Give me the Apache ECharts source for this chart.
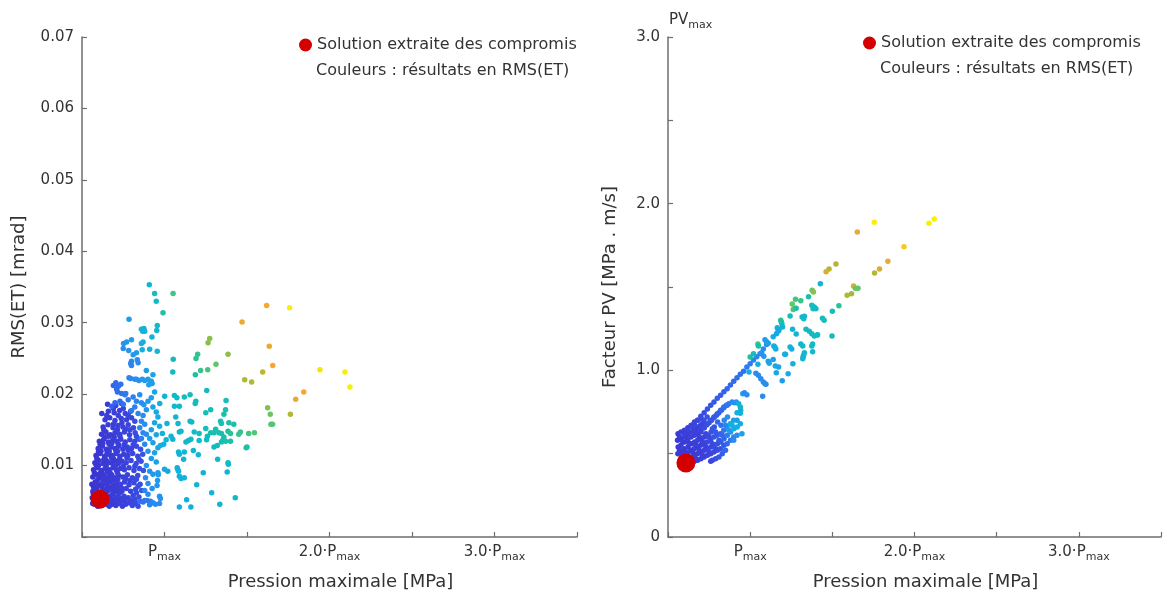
<!DOCTYPE html>
<html><head><meta charset="utf-8">
<script src="https://cdn.jsdelivr.net/npm/echarts@6/dist/echarts.min.js"></script>
<style>html,body{margin:0;padding:0;background:#fff}#c{width:1164px;height:597px}</style>
</head><body><div id="c"></div>
<script>
// ---- tick labels ----
const xTickPrefix = { 1: '', 2: '2.0\u00b7', 3: '3.0\u00b7' };
const rightYTickLabels = { 0: '0', 1: '1.0', 2: '2.0', 3: '3.0' };
const legendName = 'Solution extraite des compromis';
const colorNote = 'Couleurs : r\u00e9sultats en RMS(ET)';

// ---- compromise solution [P, value] ----
const leftSolution = [[0.609, 0.0053]];
const rightSolution = [[0.609, 0.444]];

// ---- left chart points [P/Pmax, RMS(ET), colour value] ----
const leftOutliers = [
[0.908,0.0353,0.45],[0.940,0.0341,0.55],[1.052,0.0341,0.65],[0.950,0.0330,0.5],[0.991,0.0314,0.58],[0.785,0.0305,0.35],[0.956,0.0296,0.5],[0.953,0.0289,0.45],[0.86,0.0291,0.42],[0.875,0.0292,0.43],[0.868,0.0288,0.42],[0.88,0.0288,0.44],[0.924,0.0280,0.45],[0.752,0.0271,0.32],[0.77,0.0273,0.33],[0.80,0.0276,0.35],[0.86,0.0271,0.4],[0.87,0.0273,0.4],[0.75,0.0264,0.3],[0.783,0.0261,0.32],[0.91,0.0263,0.43],[0.956,0.0260,0.46],[0.83,0.0258,0.36],[0.81,0.0255,0.34],[0.865,0.0262,0.4],
[1.053,0.0249,0.52],[1.191,0.0250,0.62],[1.201,0.0256,0.64],[1.264,0.0272,0.75],[1.274,0.0278,0.76],[1.385,0.0256,0.76],[1.470,0.0301,0.88],[1.619,0.0324,0.9],[1.758,0.0321,1.0],[1.635,0.0267,0.88],[1.656,0.0240,0.9],[1.595,0.0231,0.82],[1.486,0.0220,0.8],[1.528,0.0217,0.8],[1.942,0.0234,0.98],[2.094,0.0231,1.0],[2.124,0.0210,1.0],[1.844,0.0203,0.9],[1.795,0.0193,0.88],[1.763,0.0172,0.8],[1.625,0.0181,0.74],[1.641,0.0172,0.72],[1.645,0.0158,0.68],[1.655,0.0158,0.68],
[1.312,0.0242,0.7],[1.262,0.0234,0.66],[1.219,0.0233,0.64],[1.187,0.0227,0.6],[1.05,0.0231,0.52],[1.256,0.0205,0.52],[1.06,0.0198,0.5],[1.075,0.0195,0.5],[1.12,0.0196,0.52],[1.155,0.0199,0.54],[1.19,0.0190,0.52],[1.186,0.0187,0.52],[1.373,0.0191,0.55],[1.001,0.0197,0.45],[0.971,0.0187,0.42],[1.06,0.0183,0.48],[1.09,0.0183,0.5],[1.28,0.0178,0.56],[1.25,0.0174,0.55],[1.37,0.0178,0.58],[1.36,0.0172,0.57],[1.068,0.0168,0.47],[1.155,0.0162,0.5],[1.165,0.0161,0.5],[1.34,0.0162,0.55],[1.345,0.0159,0.56],[1.39,0.0160,0.58],[1.42,0.0158,0.6],[1.015,0.0159,0.45],[1.082,0.0159,0.47],[1.25,0.0152,0.55],[1.31,0.0151,0.56],
[0.987,0.0145,0.42],[1.04,0.0141,0.45],[1.05,0.0137,0.45],[1.09,0.0147,0.47],[1.10,0.0148,0.48],[1.18,0.0147,0.52],[1.21,0.0145,0.53],[1.28,0.0146,0.56],[1.30,0.0146,0.56],[1.33,0.0146,0.57],[1.345,0.0145,0.57],[1.36,0.0140,0.58],[1.355,0.0136,0.56],[1.345,0.0133,0.56],[1.37,0.0134,0.58],[1.40,0.0134,0.6],[1.385,0.0148,0.6],[1.40,0.0145,0.62],[1.45,0.0144,0.64],[1.46,0.0147,0.64],[1.51,0.0145,0.66],[1.545,0.0146,0.68],[1.26,0.0141,0.52],[1.255,0.0136,0.5],[1.21,0.0135,0.5],[1.16,0.0137,0.5],[1.13,0.0133,0.48],[1.145,0.0135,0.48],[1.30,0.0126,0.52],[1.32,0.0128,0.53],[1.50,0.0126,0.6],[1.495,0.0125,0.6],
[1.01,0.0136,0.43],[0.995,0.0130,0.42],[0.975,0.0128,0.4],[1.085,0.0119,0.45],[1.09,0.0116,0.45],[1.12,0.0119,0.46],[1.175,0.0121,0.47],[1.116,0.0109,0.45],[1.322,0.0109,0.5],[1.385,0.0104,0.5],[1.387,0.0102,0.5],[1.38,0.0091,0.48],[1.205,0.0115,0.47],[1.235,0.0090,0.45],[1.077,0.0097,0.42],[1.08,0.0095,0.42],[1.085,0.0092,0.43],[1.09,0.0085,0.42],[1.10,0.0082,0.43],[1.12,0.0083,0.44],[1.195,0.0073,0.45],[1.286,0.0062,0.46],[1.429,0.0055,0.5],[1.335,0.0046,0.47],[1.134,0.0052,0.42],[1.09,0.0042,0.4],[1.16,0.0042,0.42],
[0.96,0.0090,0.35],[0.962,0.0087,0.35],[0.958,0.0079,0.34],[0.955,0.0072,0.33],[1.0,0.0095,0.38],[1.02,0.0092,0.38],[0.97,0.0057,0.32],[0.975,0.0054,0.32],[0.945,0.0046,0.3],[0.93,0.0048,0.3],[0.915,0.0050,0.28],[0.91,0.0045,0.28],[0.97,0.0047,0.3],[0.85,0.0050,0.22],[0.88,0.0051,0.24],[0.87,0.0049,0.23],[0.895,0.0051,0.25]
];
const leftColumn = [
[0.69,0.0212,0.2],[0.71,0.0207,0.21],[0.72,0.0211,0.22],[0.735,0.0214,0.23],[0.705,0.0216,0.21],[0.715,0.0203,0.22],[0.74,0.0201,0.23],[0.76,0.0199,0.25],[0.765,0.0201,0.25],
[0.785,0.0223,0.27],[0.795,0.0222,0.28],[0.82,0.0221,0.29],[0.83,0.0221,0.3],[0.845,0.0219,0.31],[0.865,0.0221,0.32],
[0.80,0.0246,0.28],[0.80,0.0240,0.28],[0.795,0.0243,0.28],[0.835,0.0248,0.3],[0.84,0.0244,0.3],
[0.89,0.0233,0.35],[0.93,0.0227,0.37],[0.92,0.0218,0.36],[0.905,0.0213,0.35],[0.925,0.0215,0.36],[0.90,0.0221,0.35],[0.88,0.0219,0.34],
[0.94,0.0203,0.38],[0.92,0.0195,0.36],[0.90,0.0190,0.34],[0.875,0.0185,0.32],[0.89,0.0178,0.33],[0.93,0.0182,0.37],[0.95,0.0175,0.38],[0.96,0.0168,0.39],[0.94,0.0160,0.38],[0.97,0.0155,0.4],[0.92,0.0150,0.36],[0.95,0.0143,0.38],[0.91,0.0138,0.35],[0.93,0.0132,0.36],[0.96,0.0125,0.38],[0.94,0.0118,0.37],[0.90,0.0120,0.33],[0.92,0.0110,0.34],[0.95,0.0105,0.36],[0.89,0.0100,0.32],[0.91,0.0092,0.33],[0.93,0.0088,0.34],[0.885,0.0083,0.3],[0.90,0.0075,0.3],[0.925,0.0068,0.31],[0.88,0.0065,0.28],[0.90,0.0060,0.29],
[0.70,0.0188,0.2],[0.68,0.0183,0.19],[0.73,0.0190,0.22],[0.75,0.0186,0.23],[0.78,0.0192,0.25],[0.81,0.0196,0.27],[0.83,0.0190,0.28],[0.85,0.0199,0.3],[0.86,0.0188,0.3],[0.82,0.0182,0.27],[0.80,0.0177,0.26],[0.84,0.0173,0.28],[0.87,0.0170,0.3],[0.86,0.0162,0.29],[0.88,0.0158,0.3],[0.85,0.0153,0.28],[0.87,0.0146,0.29],[0.89,0.0144,0.3],[0.86,0.0138,0.27],[0.88,0.0130,0.28]
];
const leftCluster = [
[0.575,0.0046,0.04],[0.595,0.0043,0.04],[0.62,0.0045,0.05],[0.645,0.0047,0.05],[0.665,0.0043,0.06],[0.685,0.0046,0.06],[0.705,0.0044,0.07],[0.725,0.0047,0.08],[0.745,0.0043,0.08],[0.765,0.0046,0.09],[0.785,0.0048,0.1],[0.805,0.0044,0.11],[0.825,0.0047,0.12],[0.84,0.0043,0.13],
[0.562,0.0055,0.03],[0.582,0.0057,0.04],[0.60,0.0053,0.04],[0.625,0.0056,0.05],[0.648,0.0054,0.05],[0.67,0.0057,0.06],[0.69,0.0053,0.06],[0.71,0.0056,0.07],[0.735,0.0054,0.08],[0.755,0.0057,0.09],[0.78,0.0055,0.1],[0.81,0.0058,0.11],[0.845,0.0056,0.13],
[0.566,0.0064,0.03],[0.588,0.0067,0.04],[0.61,0.0063,0.04],[0.632,0.0066,0.05],[0.655,0.0064,0.05],[0.676,0.0067,0.06],[0.698,0.0063,0.07],[0.72,0.0066,0.07],[0.742,0.0064,0.08],[0.768,0.0068,0.09],[0.795,0.0064,0.1],[0.825,0.0067,0.12],[0.862,0.0065,0.14],
[0.56,0.0074,0.03],[0.58,0.0077,0.04],[0.603,0.0073,0.04],[0.625,0.0076,0.05],[0.647,0.0074,0.05],[0.668,0.0077,0.06],[0.69,0.0073,0.06],[0.712,0.0076,0.07],[0.733,0.0074,0.08],[0.758,0.0077,0.09],[0.785,0.0073,0.1],[0.815,0.0076,0.11],[0.852,0.0074,0.13],
[0.565,0.0084,0.03],[0.587,0.0087,0.04],[0.61,0.0083,0.04],[0.633,0.0086,0.05],[0.657,0.0084,0.05],[0.68,0.0087,0.06],[0.70,0.0083,0.07],[0.722,0.0086,0.07],[0.748,0.0084,0.08],[0.775,0.0087,0.09],[0.805,0.0083,0.11],[0.838,0.0086,0.12],
[0.57,0.0094,0.03],[0.593,0.0097,0.04],[0.617,0.0093,0.04],[0.64,0.0096,0.05],[0.664,0.0094,0.05],[0.688,0.0097,0.06],[0.71,0.0093,0.07],[0.733,0.0096,0.08],[0.757,0.0094,0.09],[0.785,0.0097,0.1],[0.815,0.0093,0.11],[0.848,0.0096,0.13],[0.872,0.0093,0.14],
[0.578,0.0104,0.04],[0.60,0.0107,0.04],[0.627,0.0103,0.05],[0.65,0.0106,0.05],[0.673,0.0104,0.06],[0.697,0.0107,0.06],[0.72,0.0103,0.07],[0.743,0.0106,0.08],[0.768,0.0104,0.09],[0.797,0.0107,0.1],[0.828,0.0103,0.12],[0.858,0.0106,0.13],
[0.585,0.0114,0.04],[0.61,0.0117,0.04],[0.637,0.0113,0.05],[0.66,0.0116,0.05],[0.683,0.0114,0.06],[0.707,0.0117,0.07],[0.73,0.0113,0.07],[0.753,0.0116,0.08],[0.778,0.0114,0.09],[0.807,0.0117,0.11],[0.838,0.0113,0.12],[0.868,0.0116,0.14],
[0.598,0.0124,0.04],[0.623,0.0127,0.05],[0.648,0.0123,0.05],[0.675,0.0126,0.06],[0.70,0.0124,0.06],[0.723,0.0127,0.07],[0.748,0.0123,0.08],[0.774,0.0126,0.09],[0.80,0.0124,0.1],[0.83,0.0127,0.12],[0.855,0.0123,0.13],
[0.605,0.0134,0.04],[0.632,0.0137,0.05],[0.66,0.0133,0.05],[0.687,0.0136,0.06],[0.71,0.0134,0.07],[0.735,0.0137,0.08],[0.762,0.0133,0.09],[0.79,0.0136,0.1],[0.82,0.0134,0.11],[0.848,0.0137,0.13],
[0.618,0.0144,0.05],[0.645,0.0147,0.05],[0.672,0.0143,0.06],[0.70,0.0146,0.07],[0.728,0.0144,0.08],[0.757,0.0147,0.09],[0.788,0.0143,0.1],[0.822,0.0146,0.12],
[0.628,0.0154,0.05],[0.658,0.0157,0.06],[0.688,0.0153,0.07],[0.718,0.0156,0.08],[0.748,0.0154,0.09],[0.78,0.0157,0.1],[0.812,0.0153,0.12],
[0.64,0.0164,0.05],[0.668,0.0167,0.06],[0.70,0.0163,0.07],[0.738,0.0166,0.08],[0.77,0.0164,0.09],[0.80,0.0167,0.11],
[0.62,0.0173,0.05],[0.66,0.0176,0.06],[0.695,0.0174,0.07],[0.728,0.0177,0.08],[0.762,0.0173,0.09],[0.795,0.0176,0.11],
[0.655,0.0186,0.06],[0.705,0.0184,0.08],[0.74,0.0187,0.09],
[0.57,0.0050,0.03],[0.595,0.0060,0.04],[0.615,0.0050,0.04],[0.64,0.0061,0.05],[0.66,0.0050,0.05],[0.685,0.0060,0.06],[0.70,0.0049,0.07],[0.725,0.0061,0.07],[0.57,0.0070,0.03],[0.595,0.0080,0.04],[0.62,0.0070,0.04],[0.645,0.0080,0.05],[0.665,0.0070,0.06],[0.69,0.0080,0.06],[0.712,0.0070,0.07],[0.575,0.0090,0.03],[0.60,0.0100,0.04],[0.622,0.0090,0.04],[0.647,0.0100,0.05],[0.67,0.0090,0.06],[0.693,0.0100,0.06],[0.715,0.0090,0.07],[0.59,0.0110,0.04],[0.615,0.0120,0.04],[0.64,0.0110,0.05],[0.665,0.0120,0.06],[0.69,0.0110,0.06],[0.715,0.0120,0.07],[0.61,0.0130,0.04],[0.64,0.0140,0.05],[0.665,0.0130,0.06],[0.695,0.0140,0.06],[0.72,0.0130,0.07],
[0.568,0.0061,0.03],[0.592,0.0071,0.04],[0.607,0.0058,0.04],[0.628,0.0081,0.05],[0.652,0.0069,0.05],[0.673,0.0082,0.06],[0.695,0.0068,0.06],[0.717,0.0081,0.07],[0.738,0.0069,0.08],[0.763,0.0082,0.09],[0.79,0.0079,0.1],[0.585,0.0101,0.04],[0.608,0.0089,0.04],[0.632,0.0108,0.05],[0.655,0.0091,0.05],[0.678,0.0111,0.06],[0.702,0.0099,0.07],[0.727,0.0109,0.07],[0.75,0.0099,0.08],[0.772,0.0111,0.09],[0.60,0.0119,0.04],[0.626,0.0131,0.05],[0.652,0.0118,0.05],[0.68,0.0131,0.06],[0.705,0.0121,0.07],[0.73,0.0141,0.08],[0.755,0.0129,0.08],[0.78,0.0121,0.09],[0.632,0.0150,0.05],[0.662,0.0141,0.06],[0.69,0.0158,0.07],[0.715,0.0150,0.07],[0.742,0.0160,0.08],[0.765,0.0151,0.09],[0.565,0.0047,0.03],[0.585,0.0051,0.04],[0.605,0.0047,0.04],[0.63,0.0050,0.05],[0.652,0.0046,0.05],[0.675,0.0051,0.06],[0.695,0.0047,0.06],[0.715,0.0051,0.07],[0.74,0.0050,0.08],[0.76,0.0052,0.09],[0.80,0.0051,0.11],[0.82,0.0053,0.12],[0.83,0.0062,0.12],[0.84,0.0071,0.13],[0.83,0.0081,0.12],[0.82,0.0099,0.12],[0.845,0.0109,0.13],[0.81,0.0129,0.11],[0.83,0.0141,0.12],[0.79,0.0150,0.11],[0.82,0.0162,0.13],[0.78,0.0170,0.11],[0.75,0.0180,0.1],[0.72,0.0170,0.09],[0.69,0.0180,0.08],[0.65,0.0170,0.06]
];

// ---- right chart points [P/Pmax, PV factor, colour value] ----
const rightOutliers = [
[1.755,1.888,1.0],[1.652,1.83,0.88],[2.088,1.882,1.0],[2.12,1.908,1.0],[1.936,1.742,0.95],[1.838,1.654,0.88],[1.787,1.608,0.86],[1.757,1.584,0.8],[1.522,1.638,0.8],[1.48,1.608,0.8],[1.462,1.592,0.86],[1.427,1.52,0.45],[1.377,1.48,0.72],[1.385,1.47,0.75],[1.355,1.442,0.6],[1.629,1.506,0.86],[1.64,1.492,0.72],[1.656,1.492,0.7],[1.59,1.45,0.8],[1.617,1.46,0.78],[1.54,1.388,0.62],[1.50,1.354,0.55],[1.498,1.206,0.52],[1.409,1.212,0.45],[1.375,1.39,0.55],[1.383,1.37,0.56],[1.276,1.426,0.66],[1.308,1.418,0.64],[1.256,1.398,0.7],[1.27,1.372,0.72],[1.262,1.365,0.68],[1.28,1.372,0.6],[1.316,1.32,0.5],[1.326,1.31,0.5],[1.243,1.326,0.55],[1.186,1.30,0.62],[1.19,1.29,0.6],[1.193,1.28,0.55],[1.197,1.26,0.45],[1.44,1.312,0.55],[1.45,1.30,0.55],[1.34,1.246,0.52],[1.36,1.234,0.52],[1.375,1.22,0.52],[1.39,1.206,0.52],[1.258,1.246,0.45],[1.28,1.218,0.45],[1.165,1.256,0.42],[1.175,1.24,0.42],[1.14,1.202,0.4],[1.243,1.14,0.42],[1.253,1.128,0.42],[1.308,1.158,0.5],[1.32,1.146,0.5],[1.38,1.158,0.52],[1.375,1.146,0.5],[1.38,1.112,0.5],[1.33,1.106,0.48],[1.325,1.09,0.48],[1.322,1.08,0.47],[1.32,1.07,0.47],[1.215,1.096,0.4],[1.144,1.146,0.4],[1.15,1.14,0.4],[1.156,1.128,0.4],[1.09,1.184,0.35],[1.10,1.172,0.35],[1.11,1.162,0.36],[1.07,1.106,0.32],[1.083,1.084,0.33],[1.047,1.158,0.65],[1.05,1.146,0.6],[1.047,1.036,0.4],[1.116,1.042,0.4],[1.153,1.026,0.38],[1.173,1.02,0.38],[1.159,0.986,0.38],[1.231,0.98,0.4],[1.195,0.938,0.35],[1.076,0.844,0.3],[0.993,0.99,0.4],[1.035,0.982,0.3],[1.05,0.97,0.3],[1.065,0.95,0.3],[1.08,0.93,0.3],[1.09,0.92,0.3],[1.096,0.916,0.3],[0.955,0.86,0.38],[0.965,0.865,0.3],[0.98,0.854,0.3],[0.89,0.81,0.3],[0.905,0.805,0.3],[0.915,0.81,0.32],[0.93,0.80,0.4],[0.94,0.78,0.45],[0.942,0.76,0.45],[0.94,0.742,0.42],[0.92,0.746,0.42],[1.0,1.08,0.6],[1.02,1.1,0.55],
[1.41,1.214,0.5],[1.26,1.04,0.42],[1.11,1.055,0.36],[1.14,1.065,0.36],[1.21,1.096,0.4],[1.16,1.22,0.38],[1.17,1.235,0.38],[1.33,1.325,0.48],[1.39,1.38,0.5],[1.40,1.37,0.5]
];
const rightUpperLine = [
[0.60,0.62,0.08],[0.62,0.64,0.09],[0.64,0.665,0.1],[0.66,0.68,0.1],[0.68,0.70,0.11],[0.70,0.725,0.12],[0.72,0.745,0.13],[0.74,0.768,0.14],[0.76,0.79,0.15],[0.78,0.81,0.16],[0.80,0.832,0.17],[0.82,0.85,0.18],[0.84,0.872,0.19],[0.86,0.89,0.2],[0.88,0.912,0.2],[0.90,0.935,0.21],[0.92,0.955,0.22],[0.94,0.977,0.23],[0.96,0.995,0.24],[0.98,1.02,0.25],[1.00,1.04,0.26],[1.02,1.062,0.27],[1.04,1.082,0.28],[1.06,1.10,0.29],[1.08,1.128,0.3],[1.10,1.155,0.32]
];
const rightMiddleLine = [
[0.70,0.64,0.1],[0.72,0.655,0.12],[0.735,0.672,0.13],[0.75,0.685,0.14],[0.765,0.70,0.15],[0.78,0.717,0.16],[0.795,0.73,0.17],[0.81,0.745,0.18],[0.825,0.76,0.2],[0.84,0.775,0.22],[0.855,0.79,0.24],[0.87,0.80,0.25]
];
const rightCluster = [
[0.56,0.50,0.05],[0.562,0.54,0.05],[0.558,0.58,0.05],[0.561,0.62,0.06],
[0.58,0.47,0.05],[0.582,0.51,0.05],[0.578,0.55,0.06],[0.581,0.59,0.06],[0.579,0.63,0.07],
[0.60,0.46,0.05],[0.602,0.49,0.05],[0.598,0.53,0.06],[0.601,0.57,0.06],[0.603,0.61,0.07],[0.60,0.64,0.08],
[0.62,0.46,0.05],[0.618,0.50,0.06],[0.622,0.54,0.06],[0.62,0.58,0.07],[0.619,0.62,0.07],[0.621,0.655,0.08],
[0.64,0.45,0.06],[0.641,0.48,0.06],[0.639,0.52,0.06],[0.642,0.56,0.07],[0.64,0.60,0.07],[0.638,0.63,0.08],[0.641,0.67,0.09],
[0.66,0.455,0.06],[0.661,0.49,0.06],[0.659,0.53,0.07],[0.662,0.57,0.07],[0.66,0.61,0.08],[0.658,0.65,0.08],[0.661,0.69,0.1],
[0.68,0.46,0.07],[0.679,0.50,0.07],[0.681,0.54,0.07],[0.68,0.58,0.08],[0.682,0.62,0.08],[0.679,0.66,0.09],[0.681,0.70,0.11],
[0.70,0.47,0.07],[0.701,0.51,0.08],[0.699,0.55,0.08],[0.702,0.59,0.09],[0.70,0.63,0.1],[0.698,0.67,0.1],[0.701,0.71,0.12],
[0.72,0.48,0.08],[0.721,0.52,0.09],[0.719,0.56,0.09],[0.722,0.60,0.1],[0.72,0.655,0.12],[0.718,0.70,0.13],
[0.74,0.49,0.09],[0.741,0.53,0.1],[0.739,0.57,0.11],[0.742,0.61,0.12],[0.74,0.68,0.14],[0.738,0.72,0.15],
[0.76,0.50,0.1],[0.761,0.54,0.11],[0.759,0.58,0.12],[0.762,0.63,0.14],[0.76,0.70,0.16],
[0.78,0.51,0.11],[0.781,0.55,0.12],[0.779,0.60,0.14],[0.782,0.66,0.16],[0.78,0.72,0.18],
[0.80,0.52,0.12],[0.801,0.56,0.14],[0.799,0.61,0.16],[0.802,0.69,0.2],[0.80,0.74,0.2],
[0.82,0.53,0.14],[0.821,0.57,0.16],[0.819,0.62,0.18],[0.822,0.67,0.22],[0.82,0.76,0.22],
[0.84,0.55,0.16],[0.841,0.59,0.2],[0.839,0.64,0.24],[0.842,0.70,0.28],[0.84,0.78,0.24],
[0.86,0.56,0.2],[0.861,0.61,0.26],[0.859,0.66,0.32],[0.862,0.72,0.3],[0.86,0.79,0.26],
[0.88,0.58,0.24],[0.881,0.63,0.34],[0.879,0.68,0.4],
[0.90,0.60,0.28],[0.901,0.65,0.42],[0.899,0.70,0.36],
[0.92,0.61,0.3],[0.921,0.66,0.4],[0.94,0.68,0.42],[0.95,0.62,0.36],[0.92,0.70,0.35],[0.90,0.58,0.3],
[0.85,0.52,0.2],[0.83,0.50,0.18],[0.81,0.48,0.16],[0.79,0.47,0.14],[0.77,0.46,0.12],[0.76,0.455,0.11],
[0.57,0.52,0.05],[0.59,0.49,0.05],[0.57,0.60,0.06],[0.59,0.57,0.06],[0.61,0.51,0.05],[0.61,0.60,0.06],[0.63,0.47,0.05],[0.63,0.56,0.06],[0.65,0.51,0.06],[0.65,0.63,0.08],[0.67,0.47,0.06],[0.67,0.55,0.07],[0.67,0.64,0.08],[0.69,0.52,0.07],[0.69,0.60,0.08],[0.71,0.49,0.08],[0.71,0.57,0.09],[0.71,0.68,0.11],[0.73,0.54,0.09],[0.73,0.62,0.11],[0.75,0.51,0.1],[0.75,0.60,0.12],[0.77,0.56,0.12],[0.77,0.65,0.15],[0.79,0.53,0.12],[0.79,0.63,0.16],[0.81,0.58,0.16],[0.83,0.61,0.2],[0.85,0.67,0.28],[0.87,0.64,0.34],[0.89,0.67,0.4]
];

const leftPoints = leftCluster.concat(leftColumn, leftOutliers);
const rightPoints = rightCluster.concat(rightMiddleLine, rightUpperLine, rightOutliers);

const FONT = 'DejaVu Sans';
const TXT = '#333333';
const AX = '#6e6e6e';
const colorStops = ['#3a2fce','#3b44dc','#3366ec','#2a8cf0','#14aee0','#10bac8','#1ec0a4','#5cc86a','#b2b832','#f5a830','#f8f000'];

function xLabel(v) {
  const r = Math.round(v);
  if (Math.abs(v - r) > 1e-6 || !(r in xTickPrefix)) return '';
  return '{p|' + xTickPrefix[r] + 'P}{s|max}';
}
const xRich = {
  p: { fontSize: 15, fontFamily: FONT, color: TXT, lineHeight: 15, verticalAlign: 'top' },
  s: { fontSize: 11, fontFamily: FONT, color: TXT, lineHeight: 18, verticalAlign: 'bottom' }
};

function makeXAxis(gi) {
  return {
    gridIndex: gi, type: 'value', min: 0.5, max: 3.5, interval: 0.5,
    name: 'Pression maximale [MPa]', nameLocation: 'middle', nameGap: 36,
    nameTextStyle: { fontSize: 18, fontFamily: FONT, color: TXT, padding: [0, 0, 0, 22] },
    axisLine: { show: true, onZero: false, lineStyle: { color: AX, width: 1.5 } },
    axisTick: { show: true, inside: true, length: 5, lineStyle: { color: AX, width: 1.2 } },
    axisLabel: { formatter: xLabel, rich: xRich, margin: 8, showMinLabel: true, showMaxLabel: true },
    splitLine: { show: false }
  };
}

const option = {
  animation: false,
  backgroundColor: '#ffffff',
  grid: [
    { left: 82, top: 37, width: 495, height: 500 },
    { left: 668, top: 37, width: 495, height: 500 }
  ],
  xAxis: [makeXAxis(0), makeXAxis(1)],
  yAxis: [
    {
      gridIndex: 0, type: 'value', min: 0, max: 0.07, interval: 0.01,
      name: 'RMS(ET) [mrad]', nameLocation: 'middle', nameGap: 54, nameRotate: 90,
      nameTextStyle: { fontSize: 18, fontFamily: FONT, color: TXT },
      axisLine: { show: true, onZero: false, lineStyle: { color: AX, width: 1.5 } },
      axisTick: { show: true, inside: true, length: 5, lineStyle: { color: AX, width: 1.2 } },
      axisLabel: { fontSize: 15, fontFamily: FONT, color: TXT, margin: 8,
        formatter: v => (Math.abs(v) < 1e-9 ? '' : v.toFixed(2)) },
      splitLine: { show: false }
    },
    {
      gridIndex: 1, type: 'value', min: 0, max: 3, interval: 0.5,
      name: 'Facteur PV [MPa . m/s]', nameLocation: 'middle', nameGap: 49, nameRotate: 90,
      nameTextStyle: { fontSize: 18, fontFamily: FONT, color: TXT },
      axisLine: { show: true, onZero: false, lineStyle: { color: AX, width: 1.5 } },
      axisTick: { show: true, inside: true, length: 5, lineStyle: { color: AX, width: 1.2 } },
      axisLabel: { fontSize: 15, fontFamily: FONT, color: TXT, margin: 8,
        formatter: v => { const r = Math.round(v); return (Math.abs(v - r) < 1e-6 && r in rightYTickLabels) ? rightYTickLabels[r] : ''; } },
      splitLine: { show: false }
    }
  ],
  visualMap: [{
    type: 'continuous', show: false, dimension: 2, min: 0, max: 1,
    seriesIndex: [0, 2], inRange: { color: colorStops }
  }],
  legend: [
    { data: [legendName], left: 299, top: 37, padding: 0, icon: 'circle', itemWidth: 13, itemHeight: 13, selectedMode: false,
      textStyle: { fontSize: 16, fontFamily: FONT, color: TXT } },
    { data: [legendName], left: 863, top: 35, padding: 0, icon: 'circle', itemWidth: 13, itemHeight: 13, selectedMode: false,
      textStyle: { fontSize: 16, fontFamily: FONT, color: TXT } }
  ],
  graphic: [
    { type: 'text', left: 316, top: 63, style: { text: colorNote, fontSize: 16, fontFamily: FONT, fill: TXT } },
    { type: 'text', left: 880, top: 61, style: { text: colorNote, fontSize: 16, fontFamily: FONT, fill: TXT } },
    { type: 'text', left: 669, top: 13, style: { text: '{p|PV}{s|max}', rich: {
        p: { fontSize: 15, fontFamily: FONT, fill: TXT, lineHeight: 15, verticalAlign: 'top' },
        s: { fontSize: 11, fontFamily: FONT, fill: TXT, lineHeight: 18, verticalAlign: 'bottom' } } } }
  ],
  series: [
    { type: 'scatter', xAxisIndex: 0, yAxisIndex: 0, data: leftPoints, symbolSize: 5.5, itemStyle: { opacity: 1 }, silent: true },
    { type: 'scatter', name: legendName, xAxisIndex: 0, yAxisIndex: 0, data: leftSolution, symbolSize: 19, itemStyle: { color: '#d40000', opacity: 1 }, z: 5 },
    { type: 'scatter', xAxisIndex: 1, yAxisIndex: 1, data: rightPoints, symbolSize: 5.5, itemStyle: { opacity: 1 }, silent: true },
    { type: 'scatter', name: legendName, xAxisIndex: 1, yAxisIndex: 1, data: rightSolution, symbolSize: 19, itemStyle: { color: '#d40000', opacity: 1 }, z: 5 }
  ]
};
const chart = echarts.init(document.getElementById('c'), null, { renderer: 'canvas' });
chart.setOption(option);
</script></body></html>
